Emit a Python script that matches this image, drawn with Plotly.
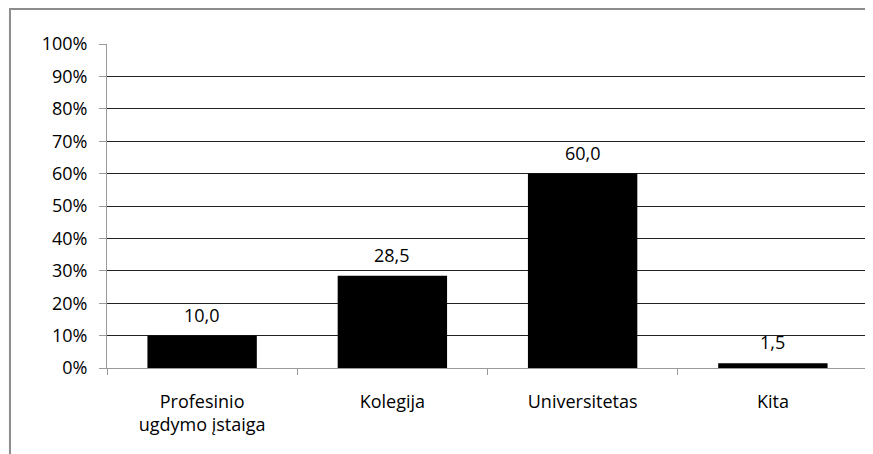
import plotly.graph_objects as go

categories = ["Profesinio<br>ugdymo įstaiga", "Kolegija", "Universitetas", "Kita"]
values = [10.0, 28.5, 60.0, 1.5]
tick_vals = list(range(0, 101, 10))
tick_text = [f"{v}%" for v in tick_vals]

labels = [f"{v:.1f}".replace(".", ",") for v in values]

FONT = "Open Sans, DejaVu Sans, sans-serif"

fig = go.Figure()
fig.add_trace(go.Bar(
    x=categories, y=values,
    marker=dict(color="black", line=dict(width=0)),
    width=0.575,
))

# value labels above the bars
for cat, val, lab in zip(categories, values, labels):
    fig.add_annotation(x=cat, y=val, text=lab, showarrow=False,
                       yanchor="middle", yshift=21,
                       font=dict(size=18, color="black", family=FONT))

fig.update_layout(
    width=865, height=446,
    margin=dict(l=99, r=5, t=36, b=86),
    plot_bgcolor="white", paper_bgcolor="white",
    showlegend=False,
    font=dict(family=FONT, size=18, color="black"),
    shapes=[dict(type="rect", xref="paper", yref="paper",
                 x0=-0.1275, x1=1.05, y0=-0.4, y1=1.108,
                 line=dict(color="#8c8c8c", width=2), layer="below")],
)
fig.update_yaxes(
    range=[0, 100], tickvals=tick_vals, ticktext=tick_text,
    showgrid=True, gridcolor="#222222", gridwidth=1,
    showline=True, linecolor="#9a9a9a", linewidth=1,
    ticks="outside", ticklen=7, tickcolor="#9a9a9a",
    ticklabelstandoff=8,
    zeroline=False, tickfont=dict(size=18),
)
fig.update_xaxes(
    showline=True, linecolor="#9a9a9a", linewidth=1,
    ticks="outside", ticklen=6, tickcolor="#9a9a9a",
    tickson="boundaries", ticklabelstandoff=17,
    tickfont=dict(size=18),
)

fig.write_html("out.html")
